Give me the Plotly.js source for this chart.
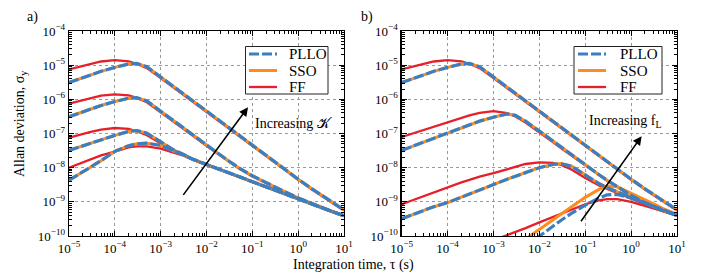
<!DOCTYPE html>
<html><head><meta charset="utf-8">
<script src="https://cdn.plot.ly/plotly-3.0.1.min.js"></script>
<style>html,body{margin:0;padding:0;background:#fff}#chart{width:706px;height:274px}</style>
</head><body><div id="chart"></div>
<script>
// integration time grid (s)
const tau = [1e-5,2e-5,3e-5,5e-5,1e-4,2e-4,3e-4,5e-4,1e-3,2e-3,3e-3,5e-3,1e-2,2e-2,3e-2,5e-2,0.1,0.2,0.3,0.5,1,2,3,5,10];

// panel a) increasing K
const a1_pllo = [3.1e-6,4.3e-6,5.2e-6,6.6e-6,8.6e-6,1.08e-5,1.12e-5,9.0e-6,4.5e-6,2.25e-6,1.5e-6,9.0e-7,4.4e-7,2.2e-7,1.47e-7,8.8e-8,4.4e-8,2.2e-8,1.5e-8,9.1e-9,4.6e-9,2.4e-9,1.7e-9,1.08e-9,5.8e-10];
const a1_sso  = [3.1e-6,4.3e-6,5.2e-6,6.6e-6,8.6e-6,1.08e-5,1.12e-5,9.0e-6,4.5e-6,2.25e-6,1.5e-6,9.0e-7,4.4e-7,2.2e-7,1.47e-7,8.8e-8,4.4e-8,2.2e-8,1.5e-8,9.1e-9,4.6e-9,2.4e-9,1.7e-9,1.08e-9,5.8e-10];
const a1_ff   = [7.5e-6,9.6e-6,1.1e-5,1.28e-5,1.4e-5,1.3e-5,1.1e-5,8.2e-6,4.2e-6,2.1e-6,1.4e-6,8.4e-7,4.15e-7,2.08e-7,1.39e-7,8.3e-8,4.2e-8,2.1e-8,1.42e-8,8.7e-9,4.4e-9,2.3e-9,1.63e-9,1.04e-9,5.6e-10];
const a2_pllo = [3.1e-7,4.3e-7,5.2e-7,6.6e-7,8.6e-7,1.08e-6,1.12e-6,9.0e-7,4.5e-7,2.25e-7,1.5e-7,9.1e-8,4.6e-8,2.35e-8,1.6e-8,1.0e-8,5.8e-9,3.6e-9,2.8e-9,2.0e-9,1.3e-9,8.8e-10,7.1e-10,5.5e-10,3.95e-10];
const a2_sso  = [3.1e-7,4.3e-7,5.2e-7,6.6e-7,8.6e-7,1.08e-6,1.12e-6,9.0e-7,4.5e-7,2.25e-7,1.5e-7,9.1e-8,4.6e-8,2.35e-8,1.6e-8,1.0e-8,5.8e-9,3.6e-9,2.8e-9,2.0e-9,1.3e-9,8.8e-10,7.1e-10,5.5e-10,3.95e-10];
const a2_ff   = [7.5e-7,9.6e-7,1.1e-6,1.28e-6,1.4e-6,1.3e-6,1.1e-6,8.2e-7,4.2e-7,2.1e-7,1.4e-7,8.5e-8,4.35e-8,2.25e-8,1.53e-8,9.6e-9,5.5e-9,3.45e-9,2.7e-9,1.95e-9,1.27e-9,8.7e-10,7.0e-10,5.4e-10,3.9e-10];
const a3_pllo = [3.2e-8,4.4e-8,5.3e-8,6.7e-8,8.8e-8,1.15e-7,1.22e-7,1.02e-7,5.7e-8,3.2e-8,2.5e-8,1.78e-8,1.25e-8,8.7e-9,7.1e-9,5.5e-9,3.9e-9,2.75e-9,2.25e-9,1.75e-9,1.22e-9,8.6e-10,7.0e-10,5.4e-10,3.9e-10];
const a3_sso  = [3.2e-8,4.4e-8,5.3e-8,6.7e-8,8.8e-8,1.15e-7,1.22e-7,1.02e-7,5.7e-8,3.2e-8,2.5e-8,1.78e-8,1.25e-8,8.7e-9,7.1e-9,5.5e-9,3.9e-9,2.75e-9,2.25e-9,1.75e-9,1.22e-9,8.6e-10,7.0e-10,5.4e-10,3.9e-10];
const a3_ff   = [7.6e-8,9.8e-8,1.12e-7,1.3e-7,1.45e-7,1.36e-7,1.16e-7,8.9e-8,5.2e-8,3.0e-8,2.4e-8,1.72e-8,1.22e-8,8.5e-9,7.0e-9,5.4e-9,3.85e-9,2.7e-9,2.2e-9,1.72e-9,1.2e-9,8.5e-10,6.9e-10,5.35e-10,3.85e-10];
const a4_pllo = [4.3e-9,7.3e-9,1.05e-8,1.6e-8,3.0e-8,4.4e-8,5.0e-8,5.2e-8,4.5e-8,3.0e-8,2.45e-8,1.75e-8,1.23e-8,8.7e-9,7.1e-9,5.5e-9,3.9e-9,2.75e-9,2.25e-9,1.75e-9,1.22e-9,8.6e-10,7.0e-10,5.4e-10,3.9e-10];
const a4_sso  = [4.3e-9,7.3e-9,1.05e-8,1.6e-8,3.0e-8,4.4e-8,5.0e-8,5.2e-8,4.5e-8,3.0e-8,2.45e-8,1.75e-8,1.23e-8,8.7e-9,7.1e-9,5.5e-9,3.9e-9,2.75e-9,2.25e-9,1.75e-9,1.22e-9,8.6e-10,7.0e-10,5.4e-10,3.9e-10];
const a4_ff   = [1.0e-8,1.4e-8,1.75e-8,2.3e-8,2.95e-8,3.9e-8,4.2e-8,4.2e-8,3.6e-8,2.75e-8,2.3e-8,1.7e-8,1.2e-8,8.5e-9,7.0e-9,5.4e-9,3.85e-9,2.7e-9,2.2e-9,1.72e-9,1.2e-9,8.5e-10,6.9e-10,5.35e-10,3.85e-10];

// panel b) increasing fL
const b1_pllo = [3.1e-6,4.3e-6,5.2e-6,6.6e-6,8.6e-6,1.08e-5,1.12e-5,9.0e-6,4.5e-6,2.25e-6,1.5e-6,9.0e-7,4.4e-7,2.2e-7,1.47e-7,8.8e-8,4.4e-8,2.2e-8,1.5e-8,9.1e-9,4.6e-9,2.4e-9,1.7e-9,1.08e-9,5.8e-10];
const b1_sso  = [3.1e-6,4.3e-6,5.2e-6,6.6e-6,8.6e-6,1.08e-5,1.12e-5,9.0e-6,4.5e-6,2.25e-6,1.5e-6,9.0e-7,4.4e-7,2.2e-7,1.47e-7,8.8e-8,4.4e-8,2.2e-8,1.5e-8,9.1e-9,4.6e-9,2.4e-9,1.7e-9,1.08e-9,5.8e-10];
const b1_ff   = [7.5e-6,9.6e-6,1.1e-5,1.28e-5,1.4e-5,1.3e-5,1.1e-5,8.2e-6,4.2e-6,2.1e-6,1.4e-6,8.4e-7,4.15e-7,2.08e-7,1.39e-7,8.3e-8,4.2e-8,2.1e-8,1.42e-8,8.7e-9,4.4e-9,2.3e-9,1.63e-9,1.04e-9,5.6e-10];
const b2_pllo = [3.2e-8,4.6e-8,5.6e-8,7.3e-8,1.03e-7,1.45e-7,1.78e-7,2.3e-7,3.0e-7,3.75e-7,3.4e-7,2.3e-7,1.18e-7,5.9e-8,3.95e-8,2.4e-8,1.2e-8,6.2e-9,4.3e-9,2.8e-9,1.55e-9,9.5e-10,7.5e-10,5.6e-10,4.0e-10];
const b2_sso  = [3.2e-8,4.6e-8,5.6e-8,7.3e-8,1.03e-7,1.45e-7,1.78e-7,2.3e-7,3.0e-7,3.75e-7,3.4e-7,2.3e-7,1.18e-7,5.9e-8,3.95e-8,2.4e-8,1.2e-8,6.2e-9,4.3e-9,2.8e-9,1.55e-9,9.5e-10,7.5e-10,5.6e-10,4.0e-10];
const b2_ff   = [7.9e-8,1.07e-7,1.28e-7,1.6e-7,2.2e-7,2.9e-7,3.4e-7,4.0e-7,4.5e-7,3.95e-7,3.15e-7,2.1e-7,1.1e-7,5.5e-8,3.7e-8,2.25e-8,1.13e-8,5.9e-9,4.1e-9,2.7e-9,1.5e-9,9.3e-10,7.3e-10,5.5e-10,3.95e-10];
const b3_pllo = [3.2e-10,4.5e-10,5.5e-10,7.2e-10,9.5e-10,1.35e-9,1.7e-9,2.25e-9,3.2e-9,4.6e-9,5.6e-9,7.3e-9,1.0e-8,1.25e-8,1.3e-8,1.1e-8,6.0e-9,3.4e-9,2.6e-9,1.95e-9,1.3e-9,8.8e-10,7.1e-10,5.5e-10,4.0e-10];
const b3_sso  = [3.2e-10,4.5e-10,5.5e-10,7.2e-10,9.5e-10,1.35e-9,1.7e-9,2.25e-9,3.2e-9,4.6e-9,5.6e-9,7.3e-9,1.0e-8,1.26e-8,1.32e-8,1.12e-8,6.1e-9,3.4e-9,2.6e-9,1.95e-9,1.3e-9,8.8e-10,7.1e-10,5.5e-10,4.0e-10];
const b3_ff   = [8.5e-10,1.2e-9,1.45e-9,1.9e-9,2.75e-9,3.7e-9,4.4e-9,5.5e-9,6.9e-9,9.2e-9,1.08e-8,1.28e-8,1.42e-8,1.38e-8,1.2e-8,8.8e-9,5.0e-9,3.0e-9,2.4e-9,1.8e-9,1.22e-9,8.5e-10,6.9e-10,5.3e-10,3.9e-10];
const b4_pllo = [null,null,null,null,null,null,null,null,null,null,null,5e-11,1.0e-10,2.0e-10,2.9e-10,4.6e-10,8.0e-10,1.3e-9,1.6e-9,1.65e-9,1.3e-9,9.3e-10,7.5e-10,5.7e-10,4.1e-10];
const b4_sso  = [null,null,null,null,null,null,null,null,null,null,5e-11,8e-11,1.5e-10,3.0e-10,4.4e-10,7.2e-10,1.35e-9,2.3e-9,2.9e-9,2.75e-9,1.8e-9,1.15e-9,8.8e-10,6.3e-10,4.3e-10];
const b4_ff   = [null,null,null,null,null,null,null,null,7.5e-11,1.05e-10,1.3e-10,1.7e-10,2.5e-10,3.6e-10,4.5e-10,6.0e-10,8.5e-10,1.1e-9,1.2e-9,1.2e-9,1.0e-9,7.6e-10,6.5e-10,5.2e-10,4.0e-10];

const xTickVals = [1e-5,1e-4,1e-3,1e-2,1e-1,1,10];
const xTickText = ['10<sup>−5</sup>','10<sup>−4</sup>','10<sup>−3</sup>','10<sup>−2</sup>','10<sup>−1</sup>','10<sup>0</sup>','10<sup>1</sup>'];
const yTickVals = [1e-10,1e-9,1e-8,1e-7,1e-6,1e-5,1e-4];
const yTickText = ['10<sup>−10</sup>','10<sup>−9</sup>','10<sup>−8</sup>','10<sup>−7</sup>','10<sup>−6</sup>','10<sup>−5</sup>','10<sup>−4</sup>'];
const seriesNames = ['PLLO','SSO','FF'];

const STYLE = {
  PLLO: {color:'#3c7fc0', width:3.2, dash:'10px,3px'},
  SSO:  {color:'#ff8b1c', width:3.0, dash:'solid'},
  FF:   {color:'#e5202a', width:2.3, dash:'solid'}
};

function mk(y, name, panel){
  const ax = panel === 'a' ? ['x','y'] : ['x2','y2'];
  return {x: tau, y: y, type:'scatter', mode:'lines', name: name,
    xaxis: ax[0], yaxis: ax[1], showlegend: false,
    line: STYLE[name], hoverinfo:'skip', connectgaps:false};
}

const groupsA = [[a1_pllo,a1_sso,a1_ff],[a2_pllo,a2_sso,a2_ff],[a3_pllo,a3_sso,a3_ff],[a4_pllo,a4_sso,a4_ff]];
const groupsB = [[b1_pllo,b1_sso,b1_ff],[b2_pllo,b2_sso,b2_ff],[b3_pllo,b3_sso,b3_ff],[b4_pllo,b4_sso,b4_ff]];
const traces = [];
[['a',groupsA],['b',groupsB]].forEach(([p, groups]) => {
  // draw order: FF, SSO, PLLO (PLLO dashes on top)
  [2,1,0].forEach(k => {
    groups.forEach(g => traces.push(mk(g[k], seriesNames[k], p)));
  });
});

const minorVals = [];
for (let e = -10; e <= 1; e++) for (let m = 2; m <= 9; m++) minorVals.push(m * Math.pow(10, e));

const FONT = 'Liberation Serif, Times New Roman, serif';
function axis(isX, domain, anchor){
  return {
    type:'log', domain: domain, anchor: anchor,
    range: isX ? [-5, 1] : [-10, -4],
    tickmode:'array', tickvals: isX ? xTickVals : yTickVals, ticktext: isX ? xTickText : yTickText,
    ticks:'inside', ticklen:5, tickwidth:1, tickcolor:'#000',
    minor:{tickmode:'array', tickvals: minorVals, ticks:'inside', ticklen:3, tickcolor:'#000', showgrid:false},
    showline:true, linecolor:'#000', linewidth:1.3, mirror:'allticks',
    showgrid:true, gridcolor:'#9a9a9a', griddash:'dot', gridwidth:1,
    zeroline:false, tickfont:{family:FONT, size:13, color:'#000'}
  };
}

const L = 69, R = 29, T = 31, B = 38, W = 706, H = 274;
const pw = W - L - R, ph = H - T - B;
const px = v => (v - L) / pw;
const py = v => (H - B - v) / ph;

// legend boxes (drawn as shapes + text, matching the reference layout)
const shapes = [];
const notes = [];
function legendBox(x0, x1, y0, y1, sx0, sx1, tx){
  shapes.push({type:'rect', xref:'paper', yref:'paper', x0: px(x0), x1: px(x1), y0: py(y1), y1: py(y0),
    line:{color:'#222', width:1}, fillcolor:'#fff', layer:'above'});
  const rows = [54, 70.5, 87];
  seriesNames.forEach((n, i) => {
    const st = STYLE[n];
    shapes.push({type:'line', xref:'paper', yref:'paper', x0: px(sx0), x1: px(sx1), y0: py(rows[i]), y1: py(rows[i]),
      line:{color: st.color, width: st.width, dash: st.dash}, layer:'above'});
    notes.push({xref:'paper', yref:'paper', x: px(tx), y: py(rows[i]), xanchor:'left', yanchor:'middle',
      text: n, showarrow:false, font:{family:FONT, size:15, color:'#000'}});
  });
}
legendBox(245.5, 328, 46.5, 94, 249, 277, 287);
legendBox(574, 662, 46.5, 94, 578, 606, 618);

const layout = {
  width: W, height: H, margin:{l:L, r:R, t:T, b:B, pad:0},
  paper_bgcolor:'#fff', plot_bgcolor:'#fff', showlegend:false,
  font:{family:FONT, size:13, color:'#000'},
  xaxis: axis(true, [0, px(344)], 'y'),
  yaxis: axis(false, [0, 1], 'x'),
  xaxis2: axis(true, [px(401.7), 1], 'y2'),
  yaxis2: axis(false, [0, 1], 'x2'),
  shapes: shapes,
  annotations: [
    {xref:'paper', yref:'paper', x: px(32), y: py(17), xanchor:'center', yanchor:'middle', text:'a)', showarrow:false, font:{family:FONT, size:14}},
    {xref:'paper', yref:'paper', x: px(367), y: py(17), xanchor:'center', yanchor:'middle', text:'b)', showarrow:false, font:{family:FONT, size:14}},
    {xref:'paper', yref:'paper', x: px(21), y: py(124), xanchor:'center', yanchor:'middle', text:'Allan deviation, σ<sub>y</sub>', textangle:-90, showarrow:false, font:{family:FONT, size:14}},
    {xref:'paper', yref:'paper', x: px(353), y: py(265), xanchor:'center', yanchor:'middle', text:'Integration time, τ (s)', showarrow:false, font:{family:FONT, size:14}},
    {xref:'x', yref:'y', axref:'x', ayref:'y', x:-1.094, y:-6.23, ax:-2.53, ay:-8.84, text:'', showarrow:true,
      arrowhead:2, arrowsize:1.1, arrowwidth:1.6, arrowcolor:'#000'},
    {xref:'x2', yref:'y2', axref:'x2', ayref:'y2', x:0.229, y:-7.08, ax:-1.115, ay:-9.61, text:'', showarrow:true,
      arrowhead:2, arrowsize:1.1, arrowwidth:1.6, arrowcolor:'#000'},
    {xref:'paper', yref:'paper', x: px(253), y: py(124), xanchor:'left', yanchor:'middle', text:'Increasing 𝒦', showarrow:false, font:{family:FONT, size:14}},
    {xref:'paper', yref:'paper', x: px(587), y: py(122), xanchor:'left', yanchor:'middle', text:'Increasing f<sub>L</sub>', showarrow:false, font:{family:FONT, size:14}}
  ].concat(notes)
};

Plotly.newPlot('chart', traces, layout, {displayModeBar:false, staticPlot:true});
</script></body></html>
